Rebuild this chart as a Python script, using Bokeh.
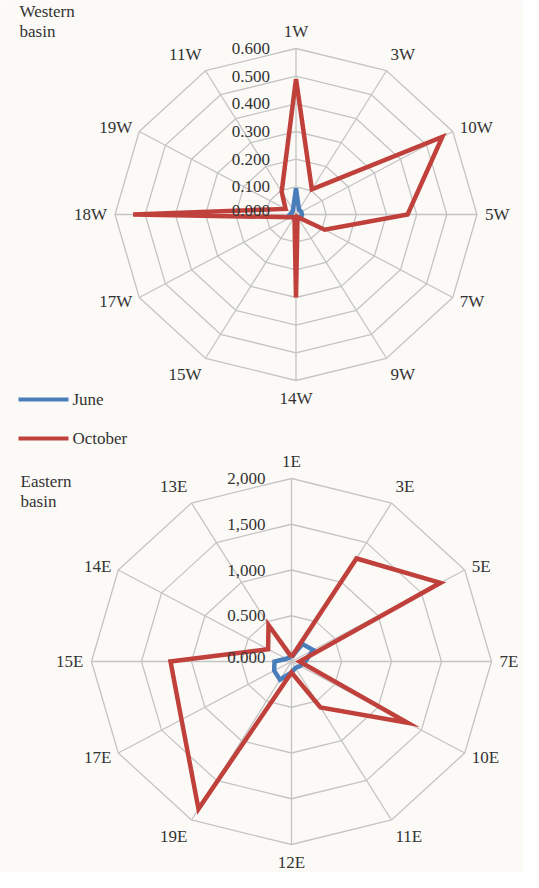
import numpy as np
from bokeh.plotting import figure
from bokeh.models import Range1d
from bokeh.embed import file_html
from bokeh.resources import INLINE
from bokeh.core.properties import value

# ---------------- data ----------------
west_categories = ["1W", "3W", "10W", "5W", "7W", "9W", "14W", "15W", "17W", "18W", "19W", "11W"]
west_june = [0.095, 0.02, 0.02, 0.02, 0.02, 0.015, 0.02, 0.015, 0.015, 0.02, 0.015, 0.02]
west_october = [0.49, 0.105, 0.56, 0.37, 0.11, 0.01, 0.30, 0.01, 0.02, 0.54, 0.04, 0.095]
west_ticks = ["0.000", "0.100", "0.200", "0.300", "0.400", "0.500", "0.600"]
west_max = 0.6

east_categories = ["1E", "3E", "5E", "7E", "10E", "11E", "12E", "19E", "17E", "15E", "14E", "13E"]
east_june = [0.05, 0.22, 0.25, 0.14, 0.10, 0.08, 0.12, 0.23, 0.20, 0.17, 0.06, 0.05]
east_october = [0.05, 1.30, 1.72, 0.08, 1.34, 0.58, 0.12, 1.86, 1.27, 1.21, 0.27, 0.46]
east_ticks = ["0.000", "0.500", "1,000", "1,500", "2,000"]
east_max = 2.0

series_names = ["June", "October"]
series_colors = ["#4A7EBB", "#C0403C"]

# ---------------- style ----------------
BG = "#FCFAF7"
GRID = "#C4C4C4"
TXT = "#333333"
FONT = value("Liberation Serif")
FS = "17px"

# the figure fills the window; range in picture pixels (8px page margin)
p = figure(width=523, height=872, x_range=Range1d(4, 527), y_range=Range1d(876, 4),
           output_backend="svg", toolbar_location=None, min_border=0)
p.axis.visible = False
p.grid.visible = False
p.outline_line_color = None
p.background_fill_color = BG
p.border_fill_color = BG


def radar(cx, cy, rx, ry, cats, june, octo, vmax, ticks, title, title_xy):
    n = len(cats)
    ang = np.arange(n) * 2 * np.pi / n
    s, c = np.sin(ang), np.cos(ang)

    def pts(vals):
        f = np.asarray(vals, dtype=float) / vmax
        return cx + rx * f * s, cy - ry * f * c

    # rings
    nlev = len(ticks) - 1
    xs, ys = [], []
    for k in range(1, nlev + 1):
        x, y = pts(np.full(n, vmax * k / nlev))
        xs.append(list(x) + [x[0]])
        ys.append(list(y) + [y[0]])
    p.multi_line(xs, ys, line_color=GRID, line_width=1.3)
    # spokes
    ex, ey = pts(np.full(n, vmax))
    p.segment(x0=[cx] * n, y0=[cy] * n, x1=list(ex), y1=list(ey), line_color=GRID, line_width=1.3)

    # series
    for vals, col in zip([june, octo], series_colors):
        x, y = pts(vals)
        p.line(list(x) + [x[0]], list(y) + [y[0]], line_color=col, line_width=4.5,
               line_join="miter")

    # tick labels
    ty = [cy - ry * k / nlev for k in range(nlev + 1)]
    ty[0] -= 4
    p.text(x=[cx - 26] * len(ticks), y=ty, text=ticks, text_align="right",
           text_baseline="middle", text_font=FONT, text_font_size=FS, text_color=TXT)

    # category labels
    pad = 8
    lx, ly = pts(np.full(n, vmax))
    for i in range(n):
        x = lx[i] + pad * s[i]
        y = ly[i] - pad * c[i]
        if s[i] > 0.1:
            al = "left"
        elif s[i] < -0.1:
            al = "right"
        else:
            al = "center"
        if c[i] > 0.6:
            bl = "bottom"
        elif c[i] < -0.6:
            bl = "top"
        else:
            bl = "middle"
        p.text(x=[x], y=[y], text=[cats[i]], text_align=al, text_baseline=bl,
               text_font=FONT, text_font_size=FS, text_color=TXT)

    # title
    p.text(x=[title_xy[0]] * 2, y=[title_xy[1], title_xy[1] + 20], text=title.split(" "),
           text_align="left", text_baseline="middle", text_font=FONT,
           text_font_size=FS, text_color=TXT)


radar(299.5, 218, 181, 166, west_categories, west_june, west_october, west_max,
      west_ticks, "Western basin", (23, 15))
radar(295, 665, 200, 183, east_categories, east_june, east_october, east_max,
      east_ticks, "Eastern basin", (24, 485))

# legend
leg_y = [403, 442]
p.segment(x0=[22, 22], y0=leg_y, x1=[72, 72], y1=leg_y, line_color=series_colors, line_width=4)
p.text(x=[76, 76], y=leg_y, text=series_names, text_align="left", text_baseline="middle",
       text_font=FONT, text_font_size=FS, text_color=TXT)

open("out.html", "w").write(file_html(p, INLINE))
